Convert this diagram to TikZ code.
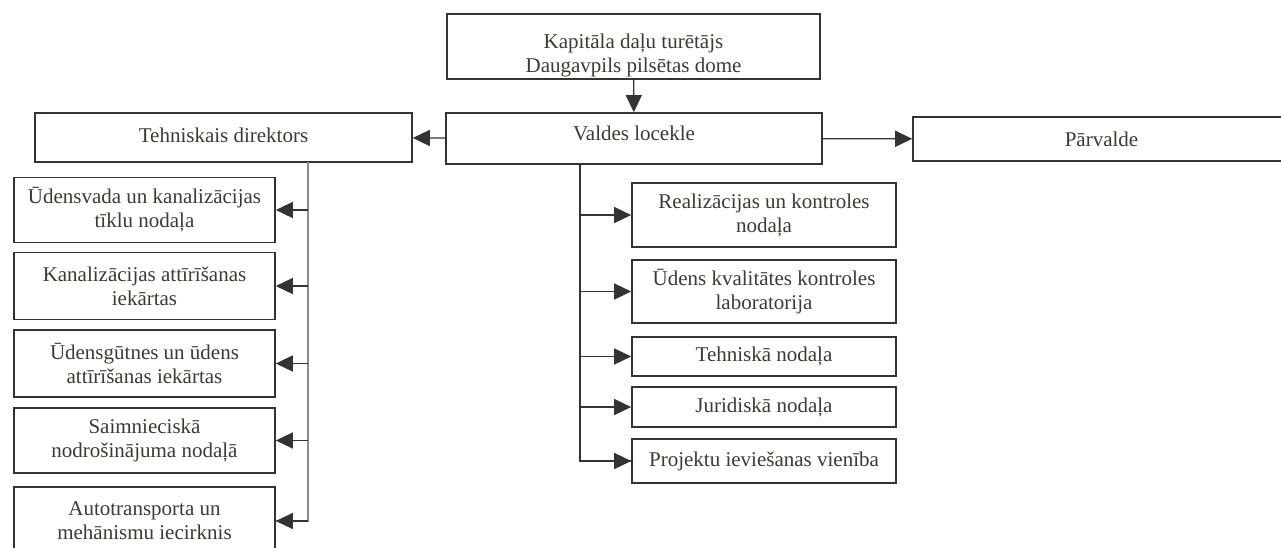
\documentclass[tikz,border=0pt]{standalone}
\usepackage{fontspec}
\setmainfont{Liberation Serif}
\usetikzlibrary{arrows.meta}
\definecolor{trait}{RGB}{50,52,50}
\definecolor{texte}{RGB}{58,60,50}
\definecolor{gristrait}{RGB}{140,140,140}

\begin{document}
\begin{tikzpicture}[x=1pt,y=-1pt]
\tikzset{boite/.style={draw=trait, line width=1.6pt, text=texte, align=center, inner sep=2pt, font=\fontsize{21}{24}\selectfont},
fleche/.style={draw=trait, line width=1.4pt, -{Triangle[length=17pt,width=16pt]}}}
\useasboundingbox (0,0) rectangle (1281,547);
\clip (0,0) rectangle (1281,547);
\fill[white] (0,0) rectangle (1281,547);
% haut
\node[boite, minimum width=373pt, minimum height=63pt, text height=56pt, text depth=5pt] (D) at (633.5,46.5) {Kapitāla daļu turētājs\\Daugavpils pilsētas dome};
\node[boite, minimum width=376pt, minimum height=51pt, text depth=11pt] (V) at (634,138.5) {Valdes locekle};
\node[boite, minimum width=377pt, minimum height=49pt, text depth=5pt] (T) at (223.5,137.5) {Tehniskais direktors};
\node[boite, minimum width=377pt, minimum height=44pt] (P) at (1101.5,139) {Pārvalde};
\draw[fleche] (D) -- (V);
\draw[fleche] (V) -- (T);
\draw[fleche] (V) -- (P);
% tehniskais direktors
\node[boite, minimum width=261pt, minimum height=65pt] (T1) at (144.5,210) {Ūdensvada un kanalizācijas\\tīklu nodaļa};
\node[boite, minimum width=261pt, minimum height=67pt] (T2) at (144.5,286) {Kanalizācijas attīrīšanas\\iekārtas};
\node[boite, minimum width=261pt, minimum height=67pt] (T3) at (144.5,363.5) {Ūdensgūtnes un ūdens\\attīrīšanas iekārtas};
\node[boite, minimum width=261pt, minimum height=65pt] (T4) at (144.5,440.5) {Saimnieciskā\\nodrošinājuma nodaļā};
\node[boite, minimum width=261pt, minimum height=68pt] (T5) at (144.5,521) {Autotransporta un\\mehānismu iecirknis};
\coordinate (tspine) at (308,162);
\draw[gristrait, line width=1.2pt] (tspine) |- (T5.east);
\draw[fleche] (tspine |- T1.east) -- (T1);
\draw[fleche] (tspine |- T2.east) -- (T2);
\draw[fleche] (tspine |- T3.east) -- (T3);
\draw[fleche] (tspine |- T4.east) -- (T4);
\draw[fleche] (tspine |- T5.east) -- (T5);
% valdes locekle
\node[boite, minimum width=264pt, minimum height=64pt] (R1) at (764,215) {Realizācijas un kontroles\\nodaļa};
\node[boite, minimum width=264pt, minimum height=63pt] (R2) at (764,291.5) {Ūdens kvalitātes kontroles\\laboratorija};
\node[boite, minimum width=264pt, minimum height=39pt] (R3) at (764,356.5) {Tehniskā nodaļa};
\node[boite, minimum width=264pt, minimum height=40pt] (R4) at (764,407) {Juridiskā nodaļa};
\node[boite, minimum width=264pt, minimum height=44pt] (R5) at (764,461) {Projektu ieviešanas vienība};
\coordinate (vspine) at (580,164);
\draw[trait, line width=1.4pt] (vspine) |- (R5.west);
\draw[fleche] (vspine |- R1.west) -- (R1);
\draw[fleche] (vspine |- R2.west) -- (R2);
\draw[fleche] (vspine |- R3.west) -- (R3);
\draw[fleche] (vspine |- R4.west) -- (R4);
\draw[fleche] (vspine |- R5.west) -- (R5);
\end{tikzpicture}
\end{document}
